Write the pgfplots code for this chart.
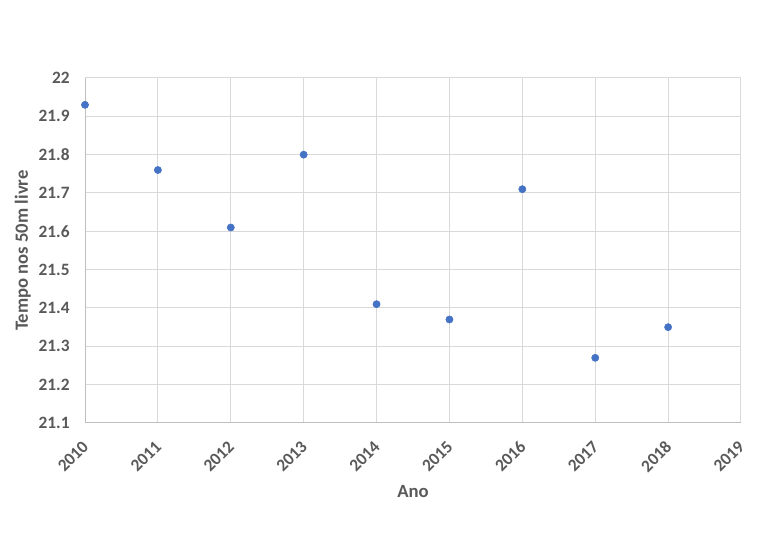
\documentclass[border=0pt]{standalone}
\usepackage{fontspec}
\setmainfont{Carlito}
\usepackage{pgfplots}
\pgfplotsset{compat=1.18}
\definecolor{txt}{HTML}{595959}
\definecolor{grd}{HTML}{D9D9D9}
\definecolor{axl}{HTML}{BFBFBF}
\definecolor{pt}{HTML}{4472C4}
\begin{document}
\begin{tikzpicture}[x=1pt,y=1pt]
\begin{axis}[
  scale only axis,
  width=492pt, height=258.75pt,
  xmin=2010, xmax=2019, ymin=21.1, ymax=22,
  xtick={2010,...,2019},
  ytick={21.1,21.2,...,22.01},
  /pgf/number format/assume math mode=true,
  xticklabel style={/pgf/number format/1000 sep={}, rotate=45, anchor=east, font=\bfseries\fontsize{13}{15}\selectfont, text=txt, xshift=-7.4pt, yshift=-11.35pt},
  yticklabel style={/pgf/number format/fixed, /pgf/number format/precision=1, font=\bfseries\fontsize{13}{15}\selectfont, text=txt, xshift=-8pt},
  grid=major,
  major grid style={grd, line width=0.75pt},
  axis line style={axl, line width=0.75pt},
  axis x line*=bottom, axis y line*=left,
  tick style={draw=none},
  xlabel={Ano}, ylabel={Tempo nos 50m livre},
  label style={font=\bfseries\fontsize{14}{16}\selectfont, text=txt},
  xlabel style={yshift=-1pt},
  ylabel style={yshift=-1pt},
  clip=false,
]
\addplot[only marks, mark=*, mark size=2.7pt, mark options={fill=pt, draw=pt}] coordinates {
(2010,21.93) (2011,21.76) (2012,21.61) (2013,21.80) (2014,21.41) (2015,21.37) (2016,21.71) (2017,21.27) (2018,21.35)
};
\coordinate (bl) at (rel axis cs:0,0);
\coordinate (tr) at (rel axis cs:1,1);
\end{axis}
\pgfresetboundingbox
\path[use as bounding box] ([shift={(-63.75pt,-89.25pt)}]bl) rectangle ([shift={(27.75pt,58.5pt)}]tr);
\end{tikzpicture}
\end{document}
